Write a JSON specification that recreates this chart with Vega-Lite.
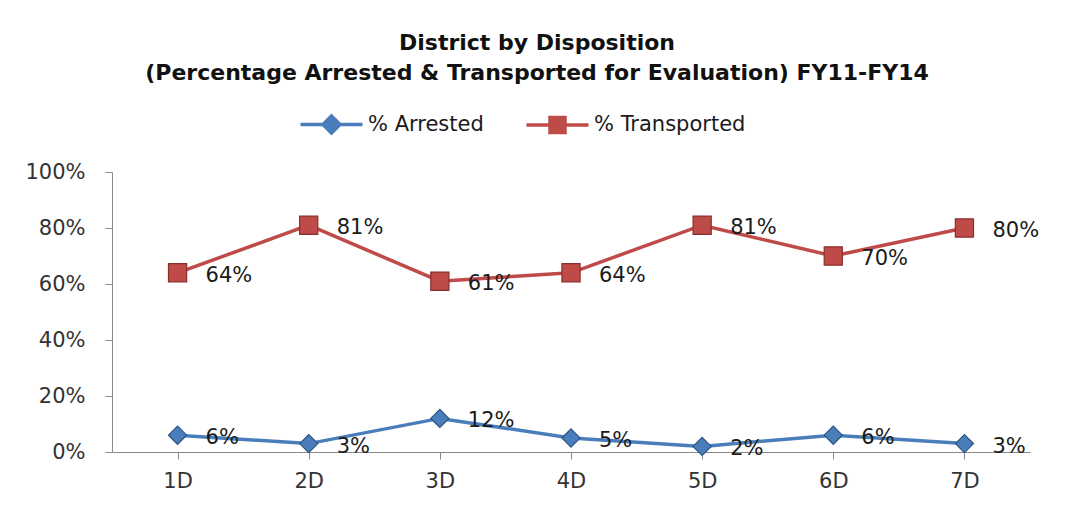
{
  "$schema": "https://vega.github.io/schema/vega-lite/v6.json",
  "width": 918,
  "height": 280,
  "autosize": "none",
  "padding": {"left": 112, "top": 172, "right": 43, "bottom": 56},
  "background": "white",
  "config": {"view": {"stroke": null}},
  "title": {
    "text": ["District by Disposition", "(Percentage Arrested & Transported for Evaluation) FY11-FY14"],
    "font": "DejaVu Sans",
    "fontWeight": "bold",
    "fontSize": 22,
    "lineHeight": 30,
    "color": "#111111",
    "anchor": "middle",
    "dx": -34,
    "offset": 29
  },
  "data": {
    "values": [
      {"District": "1D", "Series": "% Arrested", "Value": 0.06},
      {"District": "2D", "Series": "% Arrested", "Value": 0.03},
      {"District": "3D", "Series": "% Arrested", "Value": 0.12},
      {"District": "4D", "Series": "% Arrested", "Value": 0.05},
      {"District": "5D", "Series": "% Arrested", "Value": 0.02},
      {"District": "6D", "Series": "% Arrested", "Value": 0.06},
      {"District": "7D", "Series": "% Arrested", "Value": 0.03},
      {"District": "1D", "Series": "% Transported", "Value": 0.64},
      {"District": "2D", "Series": "% Transported", "Value": 0.81},
      {"District": "3D", "Series": "% Transported", "Value": 0.61},
      {"District": "4D", "Series": "% Transported", "Value": 0.64},
      {"District": "5D", "Series": "% Transported", "Value": 0.81},
      {"District": "6D", "Series": "% Transported", "Value": 0.70},
      {"District": "7D", "Series": "% Transported", "Value": 0.80}
    ]
  },
  "encoding": {
    "x": {
      "field": "District",
      "type": "nominal",
      "scale": {"paddingInner": 0, "paddingOuter": 0},
      "axis": {
        "title": null,
        "labelAngle": 0,
        "bandPosition": 0,
        "labelFont": "DejaVu Sans",
        "labelFontSize": 21,
        "labelColor": "#333333",
        "labelPadding": 11,
        "domainColor": "#8a8a8a",
        "tickColor": "#8a8a8a",
        "tickSize": 7,
        "grid": false
      }
    },
    "y": {
      "field": "Value",
      "type": "quantitative",
      "scale": {"domain": [0, 1], "nice": false},
      "axis": {
        "title": null,
        "format": ".0%",
        "values": [0, 0.2, 0.4, 0.6, 0.8, 1],
        "labelFont": "DejaVu Sans",
        "labelFontSize": 21,
        "labelColor": "#333333",
        "labelPadding": 20,
        "domainColor": "#8a8a8a",
        "tickColor": "#8a8a8a",
        "tickSize": 7,
        "grid": false
      }
    }
  },
  "resolve": {"scale": {"shape": "independent", "stroke": "independent"}},
  "layer": [
    {
      "mark": {"type": "line", "strokeWidth": 3.5},
      "encoding": {
        "color": {
          "field": "Series",
          "type": "nominal",
          "scale": {"domain": ["% Arrested", "% Transported"], "range": ["#4A7EBB", "#BE4B48"]},
          "legend": null
        }
      }
    },
    {
      "mark": {"type": "point", "filled": true, "opacity": 1, "size": 330, "strokeWidth": 1.2},
      "encoding": {
        "color": {
          "field": "Series",
          "type": "nominal",
          "scale": {"domain": ["% Arrested", "% Transported"], "range": ["#3F70AC", "#B8423F"]},
          "legend": null
        },
        "stroke": {
          "field": "Series",
          "type": "nominal",
          "scale": {"domain": ["% Arrested", "% Transported"], "range": ["#2C5483", "#8A2F2C"]},
          "legend": null
        },
        "shape": {
          "field": "Series",
          "type": "nominal",
          "scale": {"domain": ["% Arrested", "% Transported"], "range": ["diamond", "square"]},
          "legend": null
        }
      }
    },
    {
      "mark": {"type": "text", "align": "left", "baseline": "middle", "dx": 28, "dy": 3, "font": "DejaVu Sans", "fontSize": 21, "color": "#1a1a1a"},
      "encoding": {
        "text": {"field": "Value", "type": "quantitative", "format": ".0%"}
      }
    },
    {
      "transform": [{"filter": "false"}],
      "mark": {"type": "point", "filled": false, "opacity": 1},
      "encoding": {
        "stroke": {
          "field": "Series",
          "type": "nominal",
          "scale": {"domain": ["% Arrested", "% Transported"], "range": ["#4A7EBB", "#BE4B48"]},
          "legend": {
            "orient": "none",
            "direction": "horizontal",
            "legendX": 183,
            "legendY": -58,
            "title": null,
            "labelFont": "DejaVu Sans",
            "labelFontSize": 21,
            "labelColor": "#1a1a1a",
            "symbolSize": 100,
            "symbolStrokeWidth": 3.5,
            "symbolFillColor": "transparent",
            "symbolStrokeColor": "#4A7EBB",
            "symbolOffset": 26,
            "labelOffset": 26,
            "columnPadding": 35
          }
        },
        "shape": {
          "field": "Series",
          "type": "nominal",
          "scale": {
            "domain": ["% Arrested", "% Transported"],
            "range": [
              "M-6.2,0L6.2,0M-1.7,0L0,-1.7L1.7,0L0,1.7ZM-1.1,0L0,-1.1L1.1,0L0,1.1ZM-0.5,0L0,-0.5L0.5,0L0,0.5Z",
              "M-6.2,0L6.2,0M-1.5,-1.5L1.5,-1.5L1.5,1.5L-1.5,1.5ZM-0.9,-0.9L0.9,-0.9L0.9,0.9L-0.9,0.9ZM-0.3,-0.3L0.3,-0.3L0.3,0.3L-0.3,0.3Z"
            ]
          },
          "legend": {
            "orient": "none",
            "direction": "horizontal",
            "legendX": 183,
            "legendY": -58,
            "title": null,
            "labelFont": "DejaVu Sans",
            "labelFontSize": 21,
            "labelColor": "#1a1a1a",
            "symbolSize": 100,
            "symbolStrokeWidth": 3.5,
            "symbolFillColor": "transparent",
            "symbolStrokeColor": "#4A7EBB",
            "symbolOffset": 26,
            "labelOffset": 26,
            "columnPadding": 35
          }
        }
      }
    }
  ]
}
